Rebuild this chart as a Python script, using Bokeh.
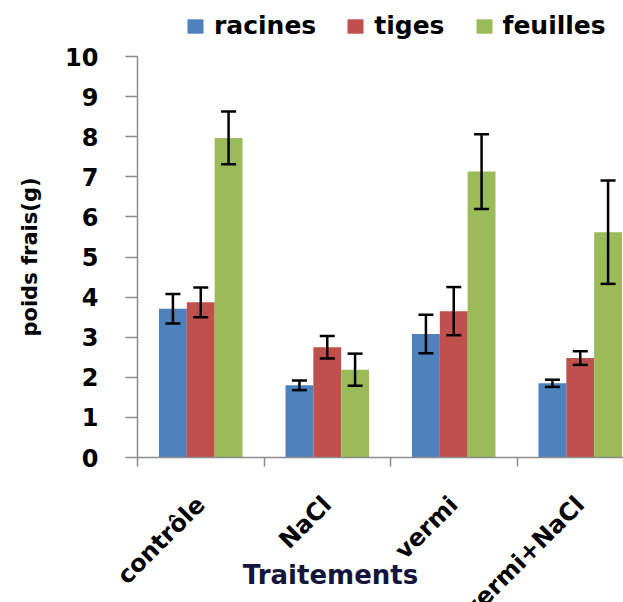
import math
from bokeh.plotting import figure
from bokeh.models import (ColumnDataSource, Range1d, FixedTicker, Whisker, TeeHead, Label)
from bokeh.embed import file_html
from bokeh.resources import INLINE

# ---- data ----
categories = ["contrôle", "NaCl", "vermi", "vermi+NaCl"]
series_names = ["racines", "tiges", "feuilles"]
racines = [3.71, 1.80, 3.08, 1.85]
racines_err = [0.37, 0.12, 0.48, 0.09]
tiges = [3.87, 2.75, 3.65, 2.48]
tiges_err = [0.37, 0.28, 0.60, 0.17]
feuilles = [7.97, 2.19, 7.13, 5.62]
feuilles_err = [0.66, 0.40, 0.93, 1.29]
y_ticks = [0, 1, 2, 3, 4, 5, 6, 7, 8, 9, 10]
x_title = "Traitements"
y_title = "poids frais(g)"

colors = ["#4F81BD", "#C0504D", "#9BBB59"]
FONT = "DejaVu Sans"

W, H = 623, 602
X0, XPX = 137, 126.5      # screen x of the value axis, px per category
Y0, YPX = 457, 40.1       # screen y of value 0, px per unit

p = figure(width=W, height=H, output_backend="svg", toolbar_location=None,
           x_range=Range1d(-X0 / XPX, (W - X0) / XPX),
           y_range=Range1d(-(H - Y0) / YPX, Y0 / YPX),
           min_border=0, min_border_left=0, min_border_right=0,
           min_border_top=0, min_border_bottom=0)
p.outline_line_color = None
p.grid.visible = False
p.background_fill_color = "white"
p.border_fill_color = "white"

bar_w = 0.22
offsets = [-0.22, 0.0, 0.22]
values = [racines, tiges, feuilles]
errors = [racines_err, tiges_err, feuilles_err]

srcs = []
for name, vals, errs, off, col in zip(series_names, values, errors, offsets, colors):
    xs = [i + 0.5 + off for i in range(len(categories))]
    src = ColumnDataSource(dict(
        x=xs, top=vals,
        upper=[v + e for v, e in zip(vals, errs)],
        lower=[v - e for v, e in zip(vals, errs)]))
    p.vbar(x="x", top="top", width=bar_w, source=src, fill_color=col,
           line_color=None, legend_label=name)
    srcs.append(src)

for src in srcs:
    p.add_layout(Whisker(source=src, base="x", upper="upper", lower="lower",
                         dimension="height", line_color="black", line_width=2.5,
                         level="overlay",
                         upper_head=TeeHead(size=15, line_color="black", line_width=2.5),
                         lower_head=TeeHead(size=15, line_color="black", line_width=2.5)))

# x axis
xa = p.xaxis[0]
centers = [i + 0.5 for i in range(len(categories))]
xa.ticker = FixedTicker(ticks=centers, minor_ticks=[0, 1, 2, 3, 4])
xa.major_label_overrides = {c: name for c, name in zip(centers, categories)}
xa.fixed_location = 0
xa.bounds = (0, 4)
xa.axis_line_color = "#8c8c8c"
xa.axis_line_width = 1.5
xa.minor_tick_line_color = "#8c8c8c"
xa.minor_tick_line_width = 1.5
xa.minor_tick_out = 9
xa.minor_tick_in = 0
xa.major_tick_line_color = None
xa.major_tick_out = 0
xa.major_tick_in = 0
xa.major_label_orientation = math.pi / 4
xa.major_label_standoff = 34
xa.major_label_text_font = FONT
xa.major_label_text_font_style = "bold"
xa.major_label_text_font_size = "24px"
xa.major_label_text_color = "black"

p.add_layout(Label(x=(330 - X0) / XPX, y=(Y0 - 574) / YPX, text=x_title,
                   text_align="center", text_baseline="middle",
                   text_font=FONT, text_font_style="bold", text_font_size="26px",
                   text_color="#14143c"))

ya = p.yaxis[0]
ya.ticker = FixedTicker(ticks=y_ticks)
ya.fixed_location = 0
ya.bounds = (0, 10)
ya.axis_line_color = "#8c8c8c"
ya.axis_line_width = 1.5
ya.major_tick_line_color = "#8c8c8c"
ya.major_tick_line_width = 1.5
ya.major_tick_out = 12
ya.major_tick_in = 0
ya.minor_tick_line_color = None
ya.major_label_standoff = 27
ya.major_label_text_font = FONT
ya.major_label_text_font_style = "bold"
ya.major_label_text_font_size = "24px"
ya.major_label_text_color = "black"
ya.axis_label = y_title
ya.axis_label_text_font = FONT
ya.axis_label_text_font_style = "bold"
ya.axis_label_text_font_size = "21px"
ya.axis_label_text_color = "black"
ya.axis_label_standoff = 20

lg = p.legend[0]
lg.orientation = "horizontal"
lg.location = (185, H - 40)
lg.label_text_font = FONT
lg.label_text_font_style = "bold"
lg.label_text_font_size = "25px"
lg.label_text_color = "black"
lg.glyph_width = 20
lg.glyph_height = 18
lg.label_standoff = 9
lg.spacing = 29
lg.padding = 0
lg.margin = 0
lg.border_line_color = None
lg.background_fill_alpha = 0

open("out.html", "w").write(file_html(p, INLINE))
